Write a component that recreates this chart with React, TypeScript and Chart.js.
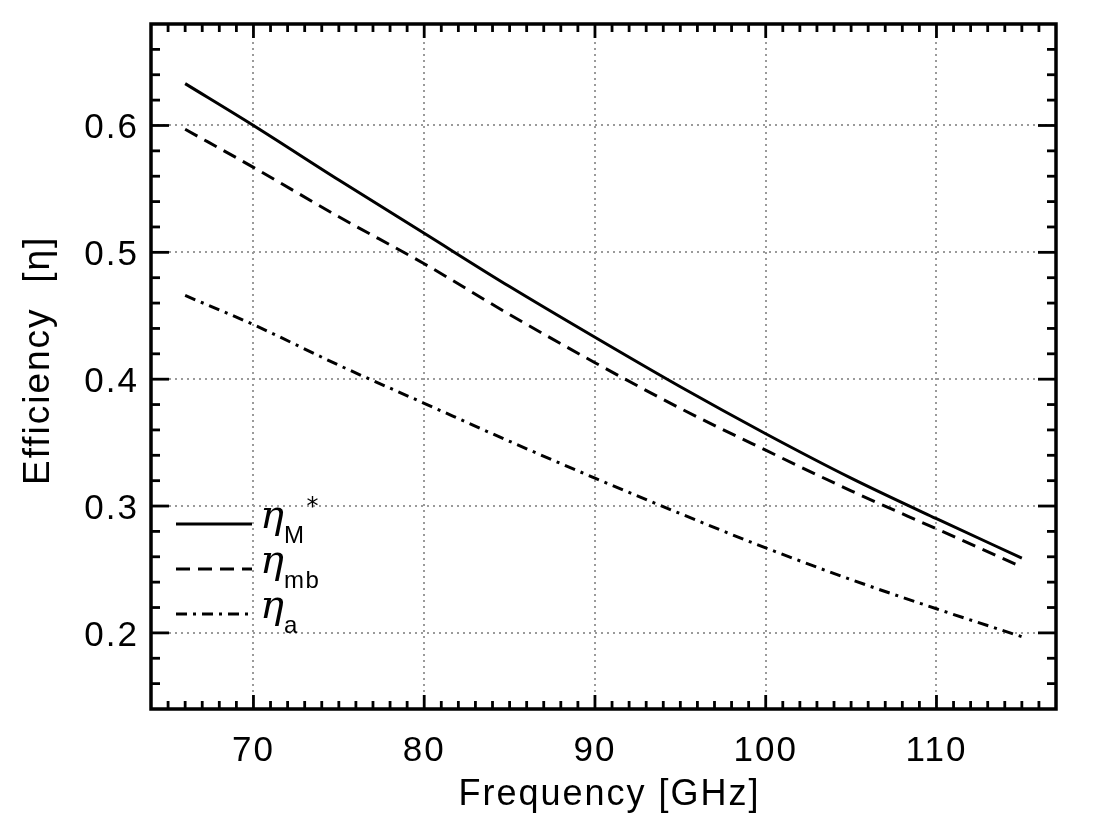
import React, { useEffect, useRef } from "react";
import { Chart, registerables } from "chart.js";

Chart.register(...registerables);

// ---- data ----
const FREQ = [66, 70, 75, 80, 85, 90, 95, 100, 105, 110, 115];
const ETA_M = [0.633, 0.600, 0.557, 0.515, 0.473, 0.433, 0.394, 0.357, 0.322, 0.290, 0.259];
const ETA_MB = [0.597, 0.567, 0.528, 0.491, 0.451, 0.413, 0.377, 0.344, 0.312, 0.282, 0.252];
const ETA_A = [0.466, 0.443, 0.411, 0.381, 0.351, 0.322, 0.294, 0.267, 0.242, 0.219, 0.197];

const X_TICKS = [70, 80, 90, 100, 110];
const Y_TICKS = [0.2, 0.3, 0.4, 0.5, 0.6];
const X_MIN = 64;
const X_MAX = 117;
const Y_MIN = 0.14;
const Y_MAX = 0.68;
const X_MINOR_STEP = 1;
const Y_MINOR_STEP = 0.02;

const LEGEND_SYMBOL = "η";
const LEGEND_SUB = ["M", "mb", "a"];
const LEGEND_SUP = ["*", "", ""];

const X_TITLE = " Frequency [GHz]";
const Y_TITLE = " Efficiency  [η]";

const DASHES: number[][] = [[], [14, 8], [11, 6, 3, 6]];

const FONT = '"Liberation Sans", Arial, sans-serif';

const framePlugin = {
  id: "frameTicks",
  beforeDraw(chart: any) {
    chart.ctx.letterSpacing = "2px";
  },
  afterDatasetsDraw(chart: any) {
    const { ctx, chartArea: a } = chart;
    const x = chart.scales.x;
    const y = chart.scales.y;
    ctx.save();
    ctx.letterSpacing = "0px";
    ctx.strokeStyle = "#000";
    ctx.lineWidth = 2.8;
    ctx.setLineDash([]);
    ctx.lineCap = "butt";
    const seg = (x1: number, y1: number, x2: number, y2: number) => {
      ctx.beginPath();
      ctx.moveTo(x1, y1);
      ctx.lineTo(x2, y2);
      ctx.stroke();
    };
    const kx0 = Math.ceil(x.min / X_MINOR_STEP - 1e-9);
    const kx1 = Math.floor(x.max / X_MINOR_STEP + 1e-9);
    for (let k = kx0; k <= kx1; k++) {
      const v = k * X_MINOR_STEP;
      const px = x.getPixelForValue(v);
      if (px <= a.left + 1 || px >= a.right - 1) continue;
      const major = X_TICKS.some((t) => Math.abs(t - v) < 1e-6);
      const len = major ? 14 : 8;
      seg(px, a.bottom, px, a.bottom - len);
      seg(px, a.top, px, a.top + len);
    }
    const ky0 = Math.ceil(y.min / Y_MINOR_STEP - 1e-9);
    const ky1 = Math.floor(y.max / Y_MINOR_STEP + 1e-9);
    for (let k = ky0; k <= ky1; k++) {
      const v = k * Y_MINOR_STEP;
      const py = y.getPixelForValue(v);
      if (py <= a.top + 1 || py >= a.bottom - 1) continue;
      const major = Y_TICKS.some((t) => Math.abs(t - v) < 1e-6);
      const len = major ? 18 : 9;
      seg(a.left, py, a.left + len, py);
      seg(a.right, py, a.right - len, py);
    }
    ctx.lineWidth = 3.5;
    ctx.strokeRect(a.left, a.top, a.right - a.left, a.bottom - a.top);
    ctx.restore();
  },
  afterDraw(chart: any) {
    const { ctx, chartArea: a } = chart;
    ctx.save();
    ctx.letterSpacing = "0px";
    const rows = [a.bottom - 185, a.bottom - 140, a.bottom - 95];
    chart.data.datasets.forEach((ds: any, i: number) => {
      const ly = rows[i];
      ctx.strokeStyle = "#000";
      ctx.lineWidth = 3;
      ctx.setLineDash(ds.borderDash || []);
      ctx.beginPath();
      ctx.moveTo(a.left + 25, ly);
      ctx.lineTo(a.left + 101, ly);
      ctx.stroke();
      ctx.setLineDash([]);
      ctx.fillStyle = "#000";
      ctx.textBaseline = "alphabetic";
      ctx.textAlign = "left";
      const tx = a.left + 109;
      ctx.font = 'italic 40px "DejaVu Serif", serif';
      ctx.fillText(LEGEND_SYMBOL, tx, ly + 4);
      const w = ctx.measureText(LEGEND_SYMBOL).width;
      ctx.font = `24px ${FONT}`;
      ctx.letterSpacing = "1.5px";
      ctx.fillText(LEGEND_SUB[i], tx + w, ly + 19);
      const ws = ctx.measureText(LEGEND_SUB[i]).width;
      ctx.letterSpacing = "0px";
      if (LEGEND_SUP[i]) {
        ctx.font = '24px "DejaVu Sans", sans-serif';
        ctx.fillText(LEGEND_SUP[i], tx + w + ws + 1, ly - 10);
      }
    });
    ctx.restore();
  },
};

export default function App() {
  const ref = useRef<HTMLCanvasElement | null>(null);
  useEffect(() => {
    if (!ref.current) return;
    const mk = (vals: number[]) => FREQ.map((f, i) => ({ x: f, y: vals[i] }));
    const series = [ETA_M, ETA_MB, ETA_A];
    const names = ["eta_M*", "eta_mb", "eta_a"];
    const gridOpts = {
      color: "#9a9a9a",
      lineWidth: 2,
      drawTicks: false,
    };
    const borderOpts = { display: false, dash: [2, 4] };
    const chart = new Chart(ref.current, {
      type: "line",
      data: {
        datasets: series.map((s, i) => ({
          label: names[i],
          data: mk(s),
          borderColor: "#000",
          backgroundColor: "#000",
          borderWidth: 3,
          borderDash: DASHES[i],
          pointRadius: 0,
          cubicInterpolationMode: "monotone" as const,
          fill: false,
        })),
      },
      options: {
        responsive: false,
        animation: false,
        devicePixelRatio: 1,
        layout: { padding: { top: 24, right: 38, left: 0, bottom: 0 } },
        plugins: { legend: { display: false }, tooltip: { enabled: false } },
        scales: {
          x: {
            type: "linear",
            min: X_MIN,
            max: X_MAX,
            afterBuildTicks: (s: any) => {
              s.ticks = X_TICKS.map((v) => ({ value: v }));
            },
            afterFit: (s: any) => {
              s.height = 125;
              s.paddingLeft = 0;
              s.paddingRight = 0;
            },
            grid: gridOpts,
            border: borderOpts,
            ticks: {
              padding: 21,
              color: "#000",
              font: { family: FONT, size: 35 },
              maxRotation: 0,
              autoSkip: false,
            },
            title: {
              display: true,
              text: X_TITLE,
              color: "#000",
              font: { family: FONT, size: 36 },
              padding: { top: 0, bottom: 17 },
            },
          },
          y: {
            type: "linear",
            min: Y_MIN,
            max: Y_MAX,
            afterBuildTicks: (s: any) => {
              s.ticks = Y_TICKS.map((v) => ({ value: v }));
            },
            afterFit: (s: any) => {
              s.width = 151;
              s.paddingTop = 0;
              s.paddingBottom = 0;
            },
            grid: gridOpts,
            border: borderOpts,
            ticks: {
              padding: 12,
              labelOffset: 3,
              color: "#000",
              font: { family: FONT, size: 35 },
              autoSkip: false,
              callback: (v: any) => Number(v).toFixed(1),
            },
            title: {
              display: true,
              text: Y_TITLE,
              color: "#000",
              font: { family: FONT, size: 37 },
              padding: { top: 17, bottom: 0 },
            },
          },
        },
      },
      plugins: [framePlugin],
    });
    return () => chart.destroy();
  }, []);
  return (
    <div style={{ position: "fixed", left: 0, top: 0, width: 1094, height: 834, background: "#fff" }}>
      <canvas ref={ref} width={1094} height={834} style={{ display: "block" }} />
    </div>
  );
}
